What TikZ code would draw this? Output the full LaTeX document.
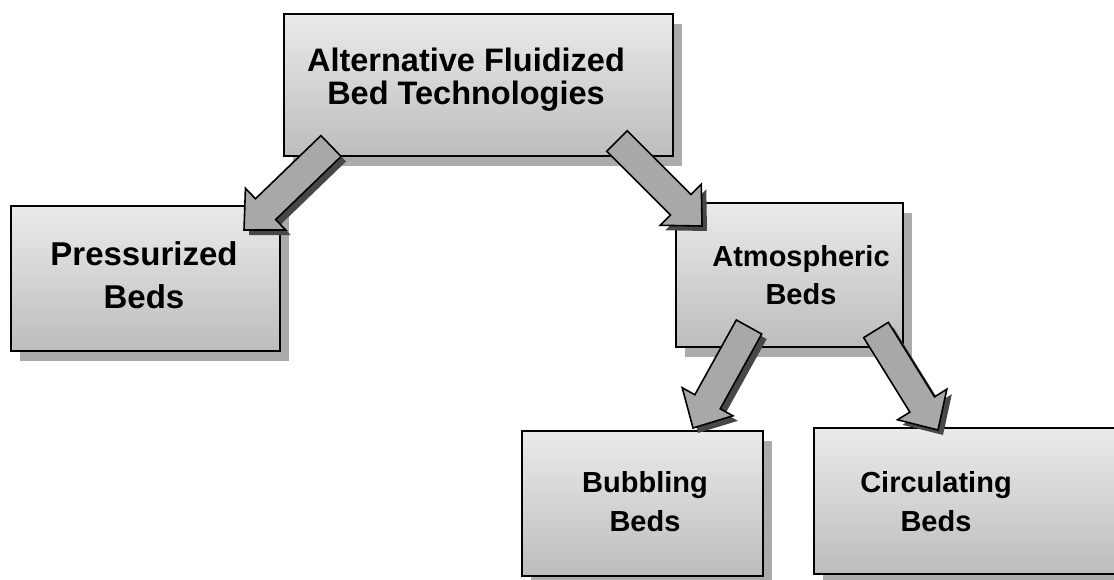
\documentclass[tikz,border=0pt]{standalone}
\usepackage{fontspec}
\setmainfont{Liberation Sans}
\usetikzlibrary{calc,shadows}
\tikzset{
  box/.style={draw=black, line width=2pt, top color=black!8, bottom color=black!26,
    anchor=north west, inner sep=0pt,
    drop shadow={shadow xshift=9pt, shadow yshift=-10pt, fill=black!33, opacity=1}},
  lbl/.style={align=center, font=\bfseries, inner sep=0pt},
  arrowbody/.style={draw=black, line width=1.6pt, fill=black!34, line join=miter},
  arrowshadow/.style={fill=black!72}
}
\newcommand\blockarrow[3]{%
  \coordinate (#1b) at ($(#3)!30pt!(#2)$);
  \coordinate (#1s1) at ($(#2)!14.5pt!90:(#3)$);
  \coordinate (#1s2) at ($(#2)!14.5pt!-90:(#3)$);
  \coordinate (#1b1) at ($(#1b)!14.5pt!90:(#3)$);
  \coordinate (#1b2) at ($(#1b)!14.5pt!-90:(#3)$);
  \coordinate (#1h1) at ($(#1b)!29pt!90:(#3)$);
  \coordinate (#1h2) at ($(#1b)!29pt!-90:(#3)$);
  \fill[arrowshadow] ($(#1s1)+(5,5)$) -- ($(#1b1)+(5,5)$) -- ($(#1h1)+(5,5)$) -- ($(#3)+(5,5)$)
     -- ($(#1h2)+(5,5)$) -- ($(#1b2)+(5,5)$) -- ($(#1s2)+(5,5)$) -- cycle;
  \draw[arrowbody] (#1s1) -- (#1b1) -- (#1h1) -- (#3) -- (#1h2) -- (#1b2) -- (#1s2) -- cycle;
}
\begin{document}
\begin{tikzpicture}[x=1pt,y=-1pt]
\useasboundingbox (0,0) rectangle (1114,580);
\fill[white] (0,0) rectangle (1114,580);

% boxes
\node[box, minimum width=389pt, minimum height=142pt] (top) at (283,13) {};
\node[box, minimum width=269pt, minimum height=145pt] (press) at (10,205) {};
\node[box, minimum width=227pt, minimum height=144pt] (atm) at (675,202) {};
\node[box, minimum width=241pt, minimum height=145pt] (bub) at (521,430) {};
\node[box, minimum width=320pt, minimum height=146pt] (circ) at (813,427) {};

% labels
\node[lbl, font=\bfseries\fontsize{32.5}{33}\selectfont] (topT) at (466,80) {Alternative Fluidized\\Bed Technologies};
\node[lbl, font=\bfseries\fontsize{33}{43}\selectfont] (pressT) at (144,275) {Pressurized\\Beds};
\node[lbl, font=\bfseries\fontsize{29}{38}\selectfont] (atmT) at (801,275) {Atmospheric\\Beds};
\node[lbl, font=\bfseries\fontsize{29}{39}\selectfont] (bubT) at (645,502) {Bubbling\\Beds};
\node[lbl, font=\bfseries\fontsize{29}{39}\selectfont] (circT) at (936,502) {Circulating\\Beds};

% arrow ends
\coordinate (a1s) at (331,146);
\coordinate (a1e) at (244,230);
\coordinate (a2s) at (617,141);
\coordinate (a2e) at (702,226);
\coordinate (a3s) at (749,327);
\coordinate (a3e) at (693,428);
\coordinate (a4s) at (876,330);
\coordinate (a4e) at (938,430);

\blockarrow{p}{a1s}{a1e}
\blockarrow{q}{a2s}{a2e}
\blockarrow{r}{a3s}{a3e}
\blockarrow{u}{a4s}{a4e}
\end{tikzpicture}
\end{document}
